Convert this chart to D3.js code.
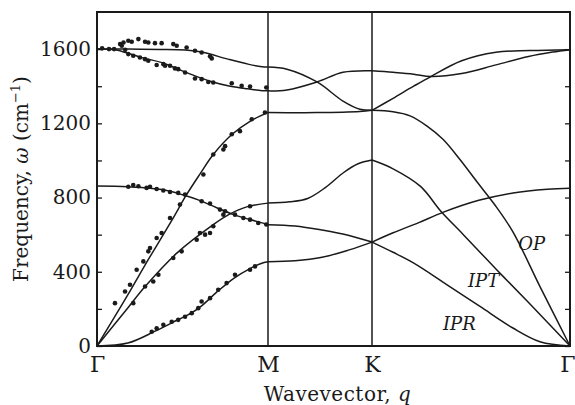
<!DOCTYPE html>
<html>
<head>
<meta charset="utf-8">
<script src="https://cdn.jsdelivr.net/npm/d3@7"></script>
<style>
  body { margin: 0; background: #fff; }
  text { font-family: "DejaVu Serif", serif; fill: #1a1a1a; }
</style>
</head>
<body>
<div id="chart"></div>
<script>
// high symmetry points along the path (q in path units)
var symLabels = ["Γ", "M", "K", "Γ"];
var symPos = [0, 1, 1.577, 2.732];
var yTicks = [0, 200, 400, 600, 800, 1000, 1200, 1400, 1600];

// calculated branches, Γ -> M  [q, frequency cm-1]
var gmLOup = [[0,1600],[.18,1600],[.37,1598],[.515,1595],[.573,1590],[.632,1580],[.766,1546],[.883,1519],[.965,1505],[1,1503]];
var gmTO   = [[0,1600],[.105,1596],[.181,1578],[.281,1550],[.38,1527],[.474,1492],[.573,1456],[.673,1424],[.766,1402],[.865,1388],[.965,1376],[1,1375]];
var gmLA   = [[0,0],[.18,275],[.28,435],[.44,681],[.52,810],[.6,924],[.68,1032],[.79,1141],[.895,1211],[1,1259]];
var gmTA   = [[0,0],[.18,205],[.28,319],[.47,503],[.68,654],[.77,708],[.88,751],[1,770]];
var gmZO   = [[0,862],[.18,858],[.38,843],[.5,815],[.6,785],[.7,745],[.8,708],[.9,680],[.96,665],[1,654]];
var gmZA   = [[0,0],[.18,16],[.34,80],[.47,140],[.55,177],[.61,215],[.7,290],[.8,365],[.9,420],[.96,445],[1,454]];

// M -> K
var mkLO = [[1,1503],[1.105,1492],[1.272,1423],[1.416,1320],[1.51,1276],[1.577,1270]];
var mkTO = [[1,1375],[1.105,1380],[1.272,1423],[1.416,1475],[1.577,1483]];
var mkLA = [[1,1259],[1.27,1258],[1.51,1264],[1.577,1270]];
var mkTA = [[1,770],[1.12,777],[1.22,795],[1.32,855],[1.42,935],[1.5,982],[1.577,1002]];
var mkZO = [[1,654],[1.15,647],[1.3,625],[1.45,596],[1.577,560]];
var mkZA = [[1,454],[1.15,459],[1.3,478],[1.45,518],[1.577,560]];

// K -> Γ
var kgTO = [[1.577,1483],[1.7,1475],[1.82,1465],[1.92,1452],[2.1,1468],[2.3,1515],[2.49,1560],[2.63,1584],[2.732,1597]];
var kgLO = [[1.577,1270],[1.7,1335],[1.82,1400],[1.92,1452],[2.1,1537],[2.3,1583],[2.5,1592],[2.732,1597]];
var kgLA = [[1.577,1270],[1.7,1262],[1.799,1240],[1.898,1185],[1.991,1114],[2.09,1005],[2.189,885],[2.294,760],[2.399,615],[2.557,320],[2.732,0]];
var kgTA = [[1.577,1002],[1.7,955],[1.86,860],[1.98,725],[2.11,600],[2.3,415],[2.5,225],[2.732,0]];
var kgZO = [[1.577,560],[1.7,610],[1.85,665],[1.99,720],[2.2,785],[2.4,825],[2.6,845],[2.732,850]];
var kgZA = [[1.577,560],[1.7,505],[1.816,449],[2.015,330],[2.207,213],[2.399,97],[2.557,23],[2.732,0]];

// measured points (Γ -> M)
var measured = [
  [.03,1604],[.07,1600],[.1,1600],[.135,1627],[.145,1618],[.155,1636],[.165,1596],[.183,1645],[.203,1640],[.242,1654],
  [.281,1640],[.30,1636],[.339,1632],[.378,1632],[.446,1627],[.466,1618],[.524,1609],[.573,1591],[.612,1582],[.661,1561],[.671,1550],
  [.183,1573],[.212,1564],[.251,1555],[.281,1546],[.30,1537],[.349,1514],[.388,1519],[.398,1510],[.427,1510],[.456,1496],
  [.475,1492],[.515,1474],[.573,1442],[.612,1438],[.651,1423],[.68,1420],[.788,1416],[.846,1402],[.895,1398],[.99,1393],
  [.105,231],[.164,294],[.193,330],[.232,411],[.271,456],[.30,510],[.31,528],[.349,582],[.378,609],[.427,690],[.485,762],
  [.622,924],[.68,1032],[.739,1059],[.749,1077],[.788,1141],[.836,1158],[.905,1222],[.982,1258],
  [.212,231],[.281,321],[.329,348],[.359,384],[.446,474],[.495,510],[.583,573],[.602,609],[.632,600],[.661,609],[.68,645],[.739,708],[.895,753],
  [.183,858],[.212,868],[.242,861],[.29,852],[.31,858],[.349,846],[.388,838],[.427,830],[.475,825],[.515,816],
  [.612,780],[.661,768],[.719,735],[.749,726],[.807,708],[.856,690],[.895,681],[.943,663],[.99,655],
  [.32,77],[.349,95],[.388,114],[.437,131],[.475,141],[.515,158],[.554,177],[.592,204],[.612,240],[.661,258],
  [.709,303],[.758,339],[.807,384],[.895,411],[.924,429]
];

var branchNames = ["OP", "IPT", "IPR"];
var branchAt = [[2.43,519],[2.137,319],[1.991,86]];

var margin = {top: 12, right: 5, bottom: 59, left: 97},
    width = 575 - margin.left - margin.right,
    height = 405 - margin.top - margin.bottom;

var svg = d3.select("#chart").append("svg")
    .attr("width", 575).attr("height", 405)
  .append("g")
    .attr("transform", "translate(" + margin.left + "," + margin.top + ")");

var x = d3.scaleLinear().domain(symPos).range([0, 171, 275, 473]);
var y = d3.scaleLinear().domain([0, 1800]).range([height, 0]);

var ink = "#1a1a1a";

// axes
var yl = svg.append("g")
    .call(d3.axisLeft(y).tickValues(yTicks).tickSize(-5).tickSizeOuter(0).tickPadding(6)
      .tickFormat(function(d) { return d % 400 === 0 ? d : ""; }));
yl.select(".domain").remove();
yl.selectAll("line").attr("stroke", ink).attr("stroke-width", 1.3);
yl.selectAll("text").style("font-size", "20px").attr("fill", ink);

var yr = svg.append("g").attr("transform", "translate(" + width + ",0)")
    .call(d3.axisRight(y).tickValues(yTicks).tickSize(-5).tickSizeOuter(0).tickFormat(""));
yr.select(".domain").remove();
yr.selectAll("line").attr("stroke", ink).attr("stroke-width", 1.3);

var xb = svg.append("g").attr("transform", "translate(0," + height + ")")
    .call(d3.axisBottom(x).tickValues(symPos).tickSize(0).tickPadding(10)
      .tickFormat(function(d, i) { return symLabels[i]; }));
xb.select(".domain").remove();
xb.selectAll("text").style("font-size", "22px").attr("fill", ink);
// last Γ sits on the right edge, keep it inside the picture
xb.selectAll("text").filter(function(d, i) { return i === symPos.length - 1; })
  .attr("text-anchor", "end").attr("x", margin.right);

// vertical lines at M and K
svg.selectAll(".sym")
  .data(symPos.slice(1, 3))
  .enter().append("line")
  .attr("class", "sym")
  .attr("x1", function(d) { return x(d); })
  .attr("x2", function(d) { return x(d); })
  .attr("y1", y(0)).attr("y2", y(1800))
  .attr("stroke", ink).attr("stroke-width", 1.5);

// bands
var bands = [gmLOup, gmTO, gmLA, gmTA, gmZO, gmZA,
             mkLO, mkTO, mkLA, mkTA, mkZO, mkZA,
             kgTO, kgLO, kgLA, kgTA, kgZO, kgZA];
var line = d3.line()
    .x(function(d) { return x(d[0]); })
    .y(function(d) { return y(d[1]); })
    .curve(d3.curveCatmullRom.alpha(0.5));

svg.selectAll(".band")
  .data(bands)
  .enter().append("path")
  .attr("class", "band")
  .attr("d", line)
  .attr("fill", "none")
  .attr("stroke", ink)
  .attr("stroke-width", 1.5);

// measured dots
svg.selectAll(".dot")
  .data(measured)
  .enter().append("circle")
  .attr("class", "dot")
  .attr("cx", function(d) { return x(d[0]); })
  .attr("cy", function(d) { return y(d[1]); })
  .attr("r", 2.3)
  .attr("fill", ink);

// frame
svg.append("rect")
  .attr("x", 0).attr("y", 0).attr("width", width).attr("height", height)
  .attr("fill", "none").attr("stroke", ink).attr("stroke-width", 2);

// branch labels
svg.selectAll(".blab")
  .data(branchNames)
  .enter().append("text")
  .attr("class", "blab")
  .attr("x", function(d, i) { return x(branchAt[i][0]); })
  .attr("y", function(d, i) { return y(branchAt[i][1]); })
  .style("font-size", "18px").style("font-style", "italic")
  .text(function(d) { return d; });

// axis titles
var xt = svg.append("text")
  .attr("x", width / 2 + 4).attr("y", height + 55)
  .attr("text-anchor", "middle")
  .style("font-size", "20px").style("letter-spacing", "0.5px");
xt.append("tspan").text("Wavevector, ");
xt.append("tspan").style("font-style", "italic").text("q");

var yt = svg.append("text")
  .attr("transform", "translate(" + (28 - margin.left) + "," + (height / 2) + ") rotate(-90)")
  .attr("text-anchor", "middle")
  .style("font-size", "20px");
yt.append("tspan").text("Frequency, ");
yt.append("tspan").style("font-style", "italic").text("ω");
yt.append("tspan").text(" (cm");
yt.append("tspan").attr("dy", -8).style("font-size", "13px").text("−1");
yt.append("tspan").attr("dy", 8).text(")");
</script>
</body>
</html>
